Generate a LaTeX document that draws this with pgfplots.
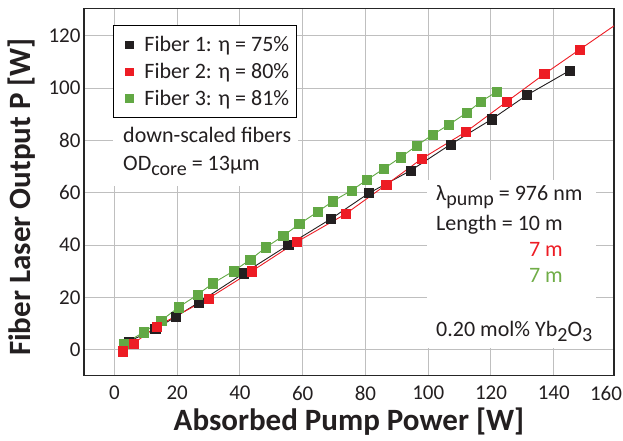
\documentclass[border=0pt]{standalone}
\usepackage{fontspec}
\setmainfont{Carlito}
\usepackage{pgfplots}
\pgfplotsset{compat=1.18}
\definecolor{cblack}{HTML}{231F20}
\definecolor{cred}{HTML}{ED1C24}
\definecolor{cgreen}{HTML}{62A844}
\definecolor{tgreen}{HTML}{70AD47}
\definecolor{gridgray}{HTML}{BFBFBF}
\newcommand\sub[1]{\raisebox{-5pt}{\fontsize{20}{22}\selectfont #1}}
\begin{document}
\begin{tikzpicture}
\begin{axis}[
 scale only axis, width=530pt, height=367.2pt,
 xmin=-9.7, xmax=159.2, ymin=-9.75, ymax=130.5,
 xtick={0,20,...,140}, ytick={0,20,...,120},
 extra x ticks={159.2}, extra x tick labels={160},
 extra x tick style={grid=none, xticklabel style={xshift=-8pt}},
 grid=major, major grid style={gridgray, line width=1pt},
 major tick length=0pt,
 axis line style={black!85, line width=1.2pt},
 tick label style={font=\fontsize{21}{24}\selectfont, text=cblack, /pgf/number format/assume math mode=true},
 xticklabel style={yshift=-7pt},
 xlabel={Absorbed Pump Power [W]},
 ylabel={Fiber Laser Output P [W]},
 label style={font=\fontsize{31}{36}\selectfont\bfseries, text=cblack},
 xlabel style={at={(axis description cs:0.5,-0.1484)}, anchor=base},
 ylabel style={at={(axis description cs:-0.1,0.486)}, anchor=base},
 legend style={at={(axis description cs:0.0547,0.9545)}, anchor=north west, draw=black, line width=1pt, fill=white, font=\fontsize{22}{26}\selectfont, text=cblack, inner xsep=5pt, inner ysep=10pt, row sep=8pt, nodes={inner xsep=2pt, inner ysep=1pt}},
 legend cell align=left,
 legend image code/.code={\path[draw=none,fill=none] (0pt,-5pt) (24pt,5pt); \draw[#1, mark size=3.6pt, line width=0pt] plot[only marks] coordinates {(11pt,0pt)};},
]
\addlegendimage{cblack, mark=square*}
\addlegendentry{Fiber 1: η = 75\%}
\addlegendimage{cred, mark=square*}
\addlegendentry{Fiber 2: η = 80\%}
\addlegendimage{cgreen, mark=square*}
\addlegendentry{Fiber 3: η = 81\%}

\addplot[cblack, line width=0.9pt, mark=square*, mark size=4.6pt, mark options={line width=0.5pt}, forget plot] coordinates {
(4.5,3.2) (13.0,8.0) (19.6,12.7) (26.8,18.1) (41.2,29.3) (55.4,40.1) (69.0,50.1) (81.1,59.9) (94.5,68.6) (107.1,78.5) (120.2,88.1) (131.5,97.4) (145.2,106.8)
};
\addplot[cgreen, line width=0.9pt, mark=square*, mark size=4.6pt, mark options={line width=0.5pt}, forget plot] coordinates {
(3.0,2.3) (9.3,6.8) (14.9,11.2) (20.4,16.3) (26.5,21.1) (31.4,25.5) (37.9,30.1) (43.3,34.5) (48.3,39.2) (53.8,43.6) (58.9,48.1) (64.8,52.8) (69.6,56.8) (75.5,60.9) (80.5,65.0) (85.7,69.1) (91.2,73.6) (96.4,78.1) (101.4,82.2) (106.6,86.1) (112.3,90.6) (116.8,94.9) (121.9,98.7)
};
\addplot[cred, line width=0.9pt, mark=square*, mark size=4.6pt, mark options={line width=0.5pt}, forget plot] coordinates {
(2.7,-0.5) (6.1,2.5) (13.5,9.0) (30.0,19.7) (43.8,30.1) (58.0,41.2) (73.6,51.9) (86.6,63.1) (98.0,73.1) (112.0,83.3) (125.1,94.9) (137.0,105.4) (148.2,114.7)
};
\addplot[cred, line width=0.9pt, forget plot] coordinates {(148.2,114.7) (159.2,123.8)};

\fill[white] (axis description cs:0.0547,0.5161) rectangle (axis description cs:0.4038,0.7094);
\fill[white] (axis description cs:0.6472,0.0749) rectangle (axis description cs:0.9660,0.5325);

\begin{scope}[every node/.style={inner sep=0pt, font=\fontsize{22}{26}\selectfont, text=cblack}]
\node[anchor=base west] at (axis description cs:0.0736,0.6332) {down-scaled fibers};
\node[anchor=base west] at (axis description cs:0.0736,0.5596) {OD\sub{core} = 13μm};
\node[anchor=base west] at (axis description cs:0.6642,0.4760) {λ\sub{pump} = 976 nm};
\node[anchor=base west] at (axis description cs:0.6642,0.3962) {Length = 10 m};
\node[anchor=base east, text=cred] at (axis description cs:0.9038,0.3254) {7 m};
\node[anchor=base east, text=tgreen] at (axis description cs:0.9038,0.2527) {7 m};
\node[anchor=base west] at (axis description cs:0.6642,0.1057) {0.20 mol\% Yb\sub{2}O\sub{3}};
\end{scope}
\end{axis}
\pgfresetboundingbox
\path[use as bounding box] (-84pt,-64.5pt) rectangle (539pt,375.5pt);
\end{tikzpicture}
\end{document}
